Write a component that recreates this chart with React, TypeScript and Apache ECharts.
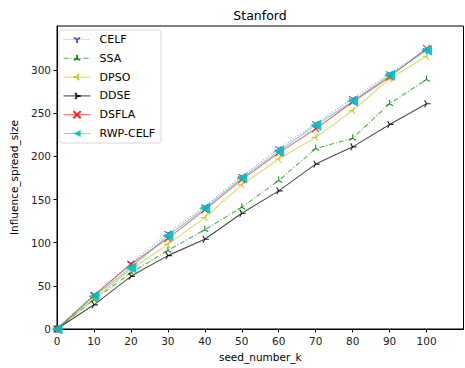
import React, { useEffect, useRef } from "react";
import * as echarts from "echarts";

const seeds = [0, 10, 20, 30, 40, 50, 60, 70, 80, 90, 100];
const celf = [0, 40, 76, 111, 142, 177, 209, 238, 267, 296, 323];
const ssa = [0, 34, 65, 91, 115, 141, 172, 209, 221, 261, 289];
const dpso = [0, 35, 69, 98, 129, 167, 197, 222, 253, 290, 316];
const ddse = [0, 28, 61, 85, 104, 134, 160, 191, 211, 237, 261];
const dsfla = [0, 39, 75, 105, 138, 173, 204, 232, 263, 292, 325];
const rwpCelf = [0, 38, 71, 108, 140, 175, 206, 236, 264, 294, 323];
const xTicks = [0, 10, 20, 30, 40, 50, 60, 70, 80, 90, 100];
const yTicks = [0, 50, 100, 150, 200, 250, 300];

const FONT = "DejaVu Sans";

const TRI_DOWN = "path://M0 0L0 10M0 0L-8.66 -5M0 0L8.66 -5M-10 -10L-10 -10M10 10L10 10";
const TRI_UP = "path://M0 0L0 -10M0 0L-8.66 5M0 0L8.66 5M-10 -10L-10 -10M10 10L10 10";
const TRI_LEFT = "path://M0 0L-10 0M0 0L5 -8.66M0 0L5 8.66M-10 -10L-10 -10M10 10L10 10";
const TRI_RIGHT = "path://M0 0L10 0M0 0L-5 -8.66M0 0L-5 8.66M-10 -10L-10 -10M10 10L10 10";
const XMARK = "path://M-10 -10L10 10M-10 10L10 -10";
const LEFT_TRI = "path://M-10 0L10 -10L10 10Z";

function mk(name: string, vals: number[], color: string, symbol: string, size: number, type: any, opacity: number, filled = false) {
  return {
    name,
    type: "line",
    data: seeds.map((s, i) => [s, vals[i]]),
    symbol,
    symbolSize: size,
    symbolKeepAspect: true,
    showAllSymbol: true,
    lineStyle: { color, width: 1.1, type, opacity },
    itemStyle: filled
      ? { color, borderColor: color, borderWidth: 0, opacity: 0.9 }
      : { color, borderColor: color, borderWidth: 1.1, opacity: 0.85 },
    emphasis: { disabled: true },
  };
}

export default function App() {
  const ref = useRef<HTMLDivElement>(null);
  useEffect(() => {
    const chart = echarts.init(ref.current!, undefined, { renderer: "svg" });
    const axisCommon = {
      axisLine: { show: true, onZero: false, lineStyle: { color: "#000", width: 1 } },
      axisTick: { show: true, inside: false, length: 3.5, lineStyle: { color: "#000" } },
      axisLabel: { color: "#222", fontSize: 10.5, fontFamily: FONT },
      splitLine: { show: false },
      nameTextStyle: { color: "#000", fontSize: 10.5, fontFamily: FONT },
    };
    chart.setOption({
      animation: false,
      backgroundColor: "#fff",
      textStyle: { fontFamily: FONT },
      grid: { left: 57, right: 1.5, top: 26, bottom: 39, show: true, borderColor: "#000", borderWidth: 1, backgroundColor: "transparent" },
      graphic: [
        { type: "text", x: 260, y: 15, style: { text: "Stanford", align: "center", verticalAlign: "middle", fontSize: 12.5, fontFamily: FONT, fill: "#000" } },
      ],
      legend: {
        orient: "vertical",
        left: 59,
        top: 30,
        padding: [4, 6, 4, 4],
        itemWidth: 27,
        itemHeight: 9,
        itemGap: 7.8,
        backgroundColor: "rgba(255,255,255,0.85)",
        borderColor: "#d8d8d8",
        borderWidth: 1,
        borderRadius: 3,
        lineStyle: { width: 1.1 },
        textStyle: { fontSize: 11, fontFamily: FONT, color: "#000", padding: [0, 0, 0, 4] },
        data: ["CELF", "SSA", "DPSO", "DDSE", "DSFLA", "RWP-CELF"],
      },
      xAxis: {
        type: "value",
        min: 0,
        max: 110,
        interval: 10,
        name: "seed_number_k",
        nameLocation: "middle",
        nameGap: 22,
        ...axisCommon,
        axisTick: { ...axisCommon.axisTick, customValues: xTicks },
        axisLabel: { ...axisCommon.axisLabel, customValues: xTicks, margin: 6 },
      },
      yAxis: {
        type: "value",
        min: 0,
        max: 351,
        interval: 50,
        name: "Influence_spread_size",
        nameLocation: "middle",
        nameGap: 38,
        ...axisCommon,
        axisTick: { ...axisCommon.axisTick, customValues: yTicks },
        axisLabel: { ...axisCommon.axisLabel, customValues: yTicks, margin: 6 },
      },
      series: [
        mk("CELF", celf, "#3f3fc8", TRI_DOWN, 8, [1, 2], 0.55),
        mk("SSA", ssa, "#008000", TRI_UP, 8, [5, 2, 1, 2], 0.65),
        mk("DPSO", dpso, "#bfbf00", TRI_LEFT, 8, "solid", 0.6),
        mk("DDSE", ddse, "#000000", TRI_RIGHT, 8, "solid", 0.7),
        mk("DSFLA", dsfla, "#ff0000", XMARK, 7, "solid", 0.6),
        mk("RWP-CELF", rwpCelf, "#00bfbf", LEFT_TRI, 11, "solid", 0.55, true),
      ],
    });
    return () => chart.dispose();
  }, []);
  return <div ref={ref} style={{ width: 465, height: 368, position: "fixed", left: 0, top: 0 }} />;
}
